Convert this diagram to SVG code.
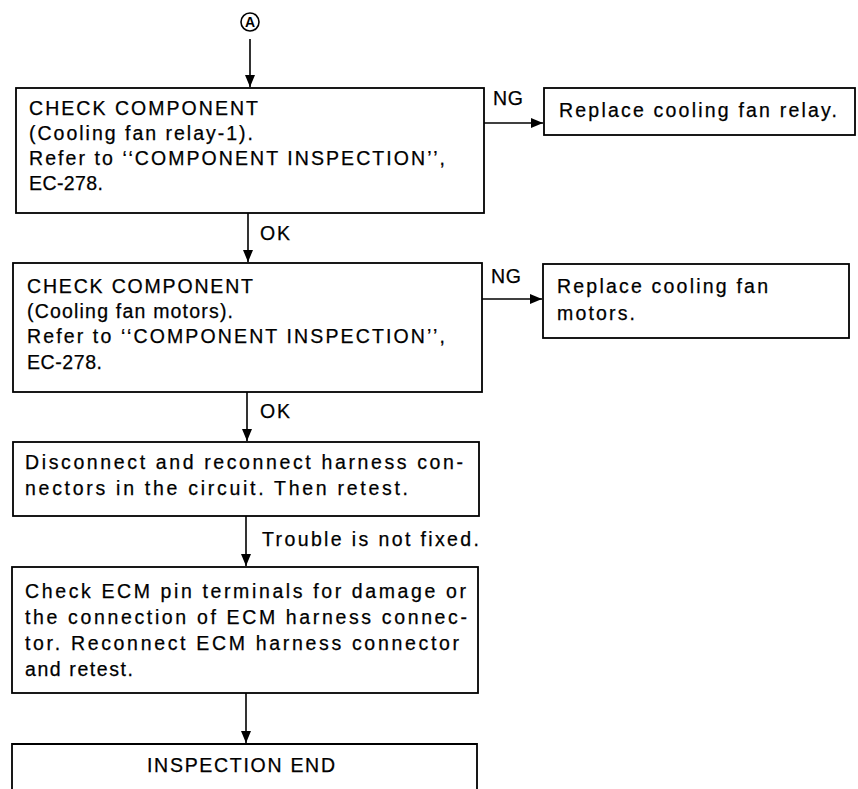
<svg xmlns="http://www.w3.org/2000/svg" width="858" height="789" viewBox="0 0 858 789">
  <style>
    .box { fill: #ffffff; stroke: #000000; stroke-width: 1.8; }
    .t { font-family: "Liberation Sans", Arial, Helvetica, sans-serif; font-size: 19.5px; fill: #000000; stroke: #000000; stroke-width: 0.25; }
    .wire { fill: none; stroke: #000000; stroke-width: 1.6; marker-end: url(#arrow); }
  </style>
  <defs>
    <marker id="arrow" viewBox="0 0 12 10" refX="12" refY="5" markerWidth="12" markerHeight="10" markerUnits="userSpaceOnUse" orient="auto">
      <path d="M0,0 L12,5 L0,10 z" fill="#000000"/>
    </marker>
  </defs>
  <rect width="858" height="789" fill="#ffffff"/>

  <!-- connector A -->
  <g id="start-A">
    <circle cx="250" cy="22" r="9" fill="#ffffff" stroke="#000000" stroke-width="1.6"/>
    <text x="250" y="27" text-anchor="middle" font-family="Liberation Sans, Arial, sans-serif" font-size="14" font-weight="bold">A</text>
  </g>

  <!-- process boxes -->
  <g id="check-relay">
    <rect class="box" x="16" y="88" width="468" height="125"/>
    <text class="t" x="29" y="115" textLength="229" lengthAdjust="spacing">CHECK COMPONENT</text>
    <text class="t" x="29" y="140" textLength="224" lengthAdjust="spacing">(Cooling fan relay-1).</text>
    <text class="t" x="29" y="165" textLength="416" lengthAdjust="spacing">Refer to ‘‘COMPONENT INSPECTION’’,</text>
    <text class="t" x="29" y="190" textLength="74" lengthAdjust="spacing">EC-278.</text>
  </g>

  <g id="replace-relay">
    <rect class="box" x="544" y="88" width="311" height="47"/>
    <text class="t" x="559" y="117" textLength="278" lengthAdjust="spacing">Replace cooling fan relay.</text>
  </g>

  <g id="check-motors">
    <rect class="box" x="13" y="263" width="469" height="129"/>
    <text class="t" x="27" y="293" textLength="226" lengthAdjust="spacing">CHECK COMPONENT</text>
    <text class="t" x="27" y="318" textLength="206" lengthAdjust="spacing">(Cooling fan motors).</text>
    <text class="t" x="27" y="343" textLength="418" lengthAdjust="spacing">Refer to ‘‘COMPONENT INSPECTION’’,</text>
    <text class="t" x="27" y="369" textLength="75" lengthAdjust="spacing">EC-278.</text>
  </g>

  <g id="replace-motors">
    <rect class="box" x="543" y="264" width="306" height="74"/>
    <text class="t" x="557" y="293" textLength="211" lengthAdjust="spacing">Replace cooling fan</text>
    <text class="t" x="557" y="320" textLength="78" lengthAdjust="spacing">motors.</text>
  </g>

  <g id="reconnect">
    <rect class="box" x="13" y="442" width="466" height="74"/>
    <text class="t" x="25" y="469" textLength="438" lengthAdjust="spacing">Disconnect and reconnect harness con-</text>
    <text class="t" x="25" y="495" textLength="383" lengthAdjust="spacing">nectors in the circuit. Then retest.</text>
  </g>

  <g id="check-ecm">
    <rect class="box" x="12" y="567" width="466" height="126"/>
    <text class="t" x="25" y="598" textLength="441" lengthAdjust="spacing">Check ECM pin terminals for damage or</text>
    <text class="t" x="25" y="624" textLength="442" lengthAdjust="spacing">the connection of ECM harness connec-</text>
    <text class="t" x="25" y="650" textLength="434" lengthAdjust="spacing">tor. Reconnect ECM harness connector</text>
    <text class="t" x="25" y="676" textLength="108" lengthAdjust="spacing">and retest.</text>
  </g>

  <g id="inspection-end">
    <path d="M12,789 L12,744 L477,744 L477,789" fill="#ffffff" stroke="#000000" stroke-width="1.8"/>
    <text class="t" x="147" y="772" textLength="188" lengthAdjust="spacing">INSPECTION END</text>
  </g>

  <!-- connectors -->
  <g id="connectors">
    <line class="wire" x1="250" y1="39" x2="250" y2="87"/>
    <line class="wire" x1="484" y1="123" x2="543" y2="123"/>
    <line class="wire" x1="248" y1="213" x2="248" y2="262"/>
    <line class="wire" x1="482" y1="299" x2="542" y2="299"/>
    <line class="wire" x1="247" y1="392" x2="247" y2="441"/>
    <line class="wire" x1="246" y1="516" x2="246" y2="566"/>
    <line class="wire" x1="246" y1="693" x2="246" y2="743"/>
    <text class="t" x="493" y="105" textLength="30" lengthAdjust="spacing">NG</text>
    <text class="t" x="491" y="283" textLength="30" lengthAdjust="spacing">NG</text>
    <text class="t" x="260" y="240" textLength="30" lengthAdjust="spacing">OK</text>
    <text class="t" x="260" y="418" textLength="30" lengthAdjust="spacing">OK</text>
    <text class="t" x="262" y="546" textLength="217" lengthAdjust="spacing">Trouble is not fixed.</text>
  </g>
</svg>
